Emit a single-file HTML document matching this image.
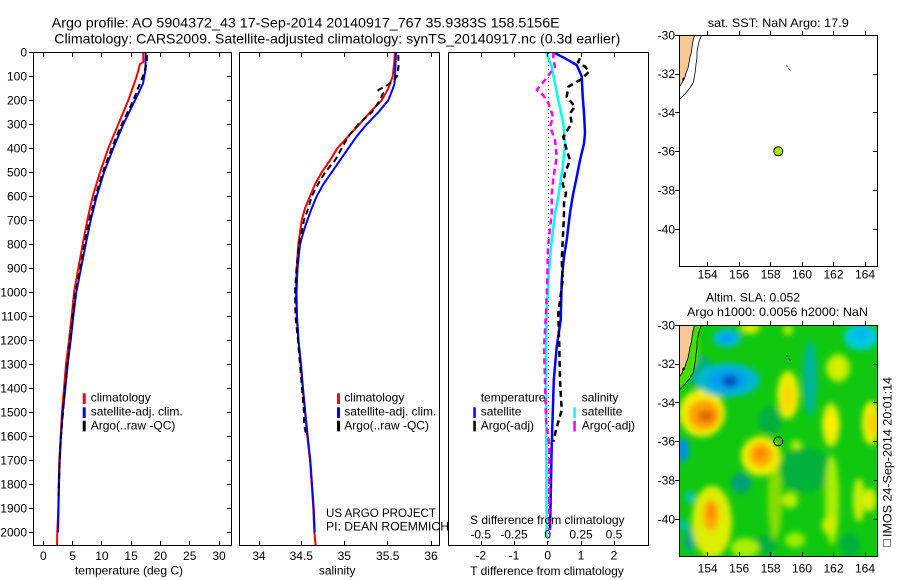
<!DOCTYPE html>
<html><head><meta charset="utf-8"><style>
html,body{margin:0;padding:0;background:#fff;}
svg{display:block;}
text{font-family:"Liberation Sans",Arial,sans-serif;fill:#000;}
</style></head><body>
<svg width="900" height="580" viewBox="0 0 900 580" xmlns="http://www.w3.org/2000/svg">
<defs>
<clipPath id="c1"><rect x="33" y="52" width="198.5" height="493.5"/></clipPath>
<clipPath id="c2"><rect x="239" y="52" width="200.5" height="493.5"/></clipPath>
<clipPath id="c3"><rect x="448" y="52" width="200.5" height="493.5"/></clipPath>
<clipPath id="m1"><rect x="679.5" y="35.5" width="198" height="231"/></clipPath>
<clipPath id="m2"><rect x="679.5" y="325.5" width="198" height="231"/></clipPath>
<filter id="bl" x="-20%" y="-20%" width="140%" height="140%"><feGaussianBlur stdDeviation="3"/></filter>
</defs>

<!-- Titles -->
<text x="51.7" y="27.5" font-size="14" textLength="508" lengthAdjust="spacingAndGlyphs">Argo profile: AO 5904372_43 17-Sep-2014 20140917_767 35.9383S 158.5156E</text>
<text x="54.3" y="43.3" font-size="14" textLength="566" lengthAdjust="spacingAndGlyphs">Climatology: CARS2009. Satellite-adjusted climatology: synTS_20140917.nc (0.3d earlier)</text>

<!-- ============ Panel 1 ============ -->
<g clip-path="url(#c1)" fill="none" stroke-linejoin="round">
<polyline stroke="#ff0000" stroke-width="2" points="143.3,52.3 143.3,62 140,64 136.7,76.3 128.3,100.3 118.3,124.3 108.3,148.3 100,172.3 92.7,196.3 87.3,220.3 82.7,244.3 78.3,268.3 74,292.3 71.7,316.3 69,340.3 66,364.3 64,388.3 62,412.3 60.7,436.3 59.3,460.3 58.7,484.3 58.3,508.3 57.3,532.3 57,545.5"/>
<polyline stroke="#0000ff" stroke-width="2" points="145.7,52.3 145.5,70 144.3,76.3 143,83.5 135,100.3 123.3,124.3 113.3,148.3 104,172.3 96.7,196.3 90.7,220.3 85.7,244.3 81,268.3 76.3,292.3 73.3,316.3 70.7,340.3 67.7,364.3 65.3,388.3 62.7,412.3 61,436.3 59.7,460.3 59,484.3 58.5,508.3 58,532.3"/>
<polyline stroke="#000" stroke-width="2" stroke-dasharray="6,4" points="147,55 146.5,64 143,76.3 138,88.3 133.3,100.3 121.7,124.3 111.7,148.3 102.7,172.3 95.3,196.3 89.3,220.3 84.3,244.3 80,268.3 75.3,292.3 72.5,316.3 70,340.3 67.5,364.3 65,388.3 63,412.3 61,436.3 59.5,465 58.5,496"/>
</g>
<rect x="33.5" y="52.5" width="198" height="493" fill="none" stroke="#000" stroke-width="1"/>
<path stroke="#000" stroke-width="1" fill="none" d="
M29,52.5H33 M29,76.5H33 M29,100.5H33 M29,124.5H33 M29,148.5H33 M29,172.5H33 M29,196.5H33 M29,220.5H33 M29,244.5H33 M29,268.5H33 M29,292.5H33 M29,316.5H33 M29,340.5H33 M29,364.5H33 M29,388.5H33 M29,412.5H33 M29,436.5H33 M29,460.5H33 M29,484.5H33 M29,508.5H33 M29,532.5H33
M227,76.5H231 M227,100.5H231 M227,124.5H231 M227,148.5H231 M227,172.5H231 M227,196.5H231 M227,220.5H231 M227,244.5H231 M227,268.5H231 M227,292.5H231 M227,316.5H231 M227,340.5H231 M227,364.5H231 M227,388.5H231 M227,412.5H231 M227,436.5H231 M227,460.5H231 M227,484.5H231 M227,508.5H231 M227,532.5H231
M43.5,53V57 M72.5,53V57 M101.5,53V57 M131.5,53V57 M160.5,53V57 M189.5,53V57 M219.5,53V57
M43.5,545V541 M72.5,545V541 M101.5,545V541 M131.5,545V541 M160.5,545V541 M189.5,545V541 M219.5,545V541"/>
<g font-size="12" text-anchor="end">
<text x="27" y="56.6">0</text><text x="27" y="80.6">100</text><text x="27" y="104.6">200</text><text x="27" y="128.6">300</text><text x="27" y="152.6">400</text><text x="27" y="176.6">500</text><text x="27" y="200.6">600</text><text x="27" y="224.6">700</text><text x="27" y="248.6">800</text><text x="27" y="272.6">900</text><text x="27" y="296.6">1000</text><text x="27" y="320.6">1100</text><text x="27" y="344.6">1200</text><text x="27" y="368.6">1300</text><text x="27" y="392.6">1400</text><text x="27" y="416.6">1500</text><text x="27" y="440.6">1600</text><text x="27" y="464.6">1700</text><text x="27" y="488.6">1800</text><text x="27" y="512.6">1900</text><text x="27" y="536.6">2000</text>
</g>
<g font-size="12" text-anchor="middle">
<text x="43.3" y="560">0</text><text x="72.6" y="560">5</text><text x="101.9" y="560">10</text><text x="131.1" y="560">15</text><text x="160.4" y="560">20</text><text x="189.7" y="560">25</text><text x="219" y="560">30</text>
<text x="129" y="574.5">temperature (deg C)</text>
</g>
<!-- legend panel 1 -->
<rect x="82.7" y="393.3" width="3" height="10.7" fill="#ff0000"/>
<rect x="82.7" y="407.3" width="3" height="10.7" fill="#0000ff"/>
<rect x="82.7" y="420.7" width="3" height="10.7" fill="#000"/>
<g font-size="12">
<text x="90.7" y="401.7">climatology</text>
<text x="90.7" y="415.7">satellite-adj. clim.</text>
<text x="90.7" y="429.3">Argo(..raw -QC)</text>
</g>

<!-- ============ Panel 2 ============ -->
<g clip-path="url(#c2)" fill="none" stroke-linejoin="round">
<polyline stroke="#ff0000" stroke-width="2" points="395,52.3 394,64.3 392.7,76.3 388.3,88.3 381.7,100.3 370,112.3 359.3,124.3 348.3,136.3 337.3,148.3 330,160.3 321.7,172.3 315,184.3 310,196.3 305,208.3 301.7,220.3 300,232.3 298.3,244.3 296.7,268.3 296,292.3 296.7,316.3 298.3,340.3 300.7,364.3 302.7,388.3 305,412.3 307.3,436.3 310,460.3 311.7,484.3 313.3,508.3 314.3,532.3 315.7,545.5"/>
<polyline stroke="#0000ff" stroke-width="2" points="396,52.3 395.5,64 395,76.3 394.5,83.5 393,88.3 388.3,100.3 378.3,112.3 366.7,124.3 356.7,136.3 348.3,148.3 340,160.3 331.7,172.3 323.3,184.3 316.7,196.3 311.7,208.3 307.3,220.3 303.3,232.3 300,244.3 297.5,268.3 296.5,292.3 297,316.3 298.5,340.3 301,364.3 303,388.3 305.3,412.3 307.7,436.3 310.3,460.3 312,484.3 313.7,508.3 314.7,532.3"/>
<polyline stroke="#000" stroke-width="2" stroke-dasharray="6,4" points="398.3,55 398.5,66.7 397,76.3 393,81 386,86 378.3,90 383,93 380,100.3 371.7,112.3 358.3,124.3 348.3,136.3 341.7,148.3 335,160.3 325,172.3 318,184.3 311.7,196.3 308.3,208.3 304,220.3 299,244.3 296.5,268.3 295,292.3 295.5,316.3 298,340.3 300,364.3 302,388.3 304,412.3 304,424 306.5,436.3"/>
</g>
<rect x="239.5" y="52.5" width="200" height="493" fill="none" stroke="#000" stroke-width="1"/>
<path stroke="#000" stroke-width="1" fill="none" d="M259.5,53V57 M301.5,53V57 M344.5,53V57 M387.5,53V57 M431.5,53V57 M259.5,545V541 M301.5,545V541 M344.5,545V541 M387.5,545V541 M431.5,545V541"/>
<g font-size="12" text-anchor="middle">
<text x="259" y="560">34</text><text x="301.3" y="560">34.5</text><text x="344.3" y="560">35</text><text x="387.7" y="560">35.5</text><text x="431" y="560">36</text>
<text x="337.2" y="574.5">salinity</text>
</g>
<rect x="337" y="393.3" width="3" height="10.7" fill="#ff0000"/>
<rect x="337" y="407.3" width="3" height="10.7" fill="#0000ff"/>
<rect x="337" y="420.7" width="3" height="10.7" fill="#000"/>
<g font-size="12">
<text x="344.3" y="401.7">climatology</text>
<text x="344.3" y="415.7">satellite-adj. clim.</text>
<text x="344.3" y="429.3">Argo(..raw -QC)</text>
<text x="326" y="517" textLength="110" lengthAdjust="spacingAndGlyphs">US ARGO PROJECT</text>
<text x="326" y="530.7" textLength="123" lengthAdjust="spacingAndGlyphs">PI: DEAN ROEMMICH</text>
</g>

<!-- ============ Panel 3 ============ -->
<g clip-path="url(#c3)" fill="none" stroke-linejoin="round">
<line x1="548.5" y1="53" x2="548.5" y2="545" stroke="#000" stroke-width="1" stroke-dasharray="1,3"/>
<polyline stroke="#0000ff" stroke-width="2.5" points="553.3,52.3 565,58.3 576.7,65 581.7,76.3 582.7,96.7 584,113 585,133 584,143.5 580,160.3 576.7,177 572.7,196.3 570,213.1 566.7,240 564,256.8 561.7,280.3 560.7,320 556.7,346.8 553.8,379.9 551.7,446.6 550,530"/>
<polyline stroke="#00ffff" stroke-width="2.5" points="546,52.3 551.7,66.7 558.3,100.3 563.3,123.3 565,143.5 562.7,166.8 558.3,196.3 555,213.3 551,246.7 548.3,280.3 546.7,313.2 546,346.8 546,379.9 546.7,537"/>
<polyline stroke="#ff00ff" stroke-width="2.5" stroke-dasharray="6,4" points="553.3,52.3 553.3,59.5 555,66.7 545,80 536.7,90 543,95 548.3,103 553,116.7 550,126.7 555,140 556.7,156.7 554,173.3 551.7,193.3 551.7,213.3 548,246.7 547.3,280 546,313.3 544,346.7 545,380 546,420 549.3,446 549.3,530"/>
<polyline stroke="#000" stroke-width="2.5" stroke-dasharray="6,4" points="580,58.3 578,62 585,66.7 589.3,71.7 580,80 568.3,86.7 566.7,96.7 575,106.7 570,113.3 571.7,123.3 563.3,136.7 566.7,150 570,160 565,173.3 562.7,184.3 566,193.3 564,203 564,213.3 563.3,230 561.7,260 562.7,280 558.3,313.3 559.3,346.7 560,380 561.7,410 556,430 553.3,441.7"/>
</g>
<rect x="448.5" y="52.5" width="200" height="493" fill="none" stroke="#000" stroke-width="1"/>
<path stroke="#000" stroke-width="1" fill="none" d="M481.5,53V57 M514.5,53V57 M547.5,53V57 M581.5,53V57 M614.5,53V57 M481.5,545V541 M514.5,545V541 M547.5,545V541 M581.5,545V541 M614.5,545V541"/>
<g font-size="12" text-anchor="middle">
<text x="547.3" y="524">S difference from climatology</text>
<text x="480.7" y="538.3">-0.5</text><text x="514" y="538.3">-0.25</text><text x="547.7" y="538.3">0</text><text x="581" y="538.3">0.25</text><text x="614" y="538.3">0.5</text>
<text x="480.7" y="559.5">-2</text><text x="514" y="559.5">-1</text><text x="547.7" y="559.5">0</text><text x="581" y="559.5">1</text><text x="614" y="559.5">2</text>
<text x="547" y="575">T difference from climatology</text>
</g>
<rect x="473.3" y="407.3" width="2.5" height="10.7" fill="#0000ff"/>
<rect x="473.3" y="420.7" width="2.5" height="10.7" fill="#000"/>
<rect x="573.3" y="407.3" width="2.5" height="10.7" fill="#00ffff"/>
<rect x="573.3" y="420.7" width="2.5" height="10.7" fill="#ff00ff"/>
<g font-size="12">
<text x="480.7" y="401.3">temperature</text>
<text x="480.7" y="415.7">satellite</text>
<text x="480.7" y="429.3">Argo(-adj)</text>
<text x="581.7" y="401.3">salinity</text>
<text x="581.7" y="415.7">satellite</text>
<text x="581.7" y="429.3">Argo(-adj)</text>
</g>

<!-- ============ Map 1 ============ -->
<text x="778.3" y="27" font-size="12" text-anchor="middle" textLength="141" lengthAdjust="spacingAndGlyphs">sat. SST: NaN Argo: 17.9</text>
<g clip-path="url(#m1)">
<polygon fill="#f9c995" stroke="#000" stroke-width="0.8" points="679.3,35 694.5,35 693,41 692,47 691.5,52 690,57 689,63 688,68 686,73 685,77 683,80 682,83 679.3,87"/>
<polyline fill="none" stroke="#000" stroke-width="0.8" points="701.7,35 699.5,40 698,46 697,52 697,58 696,64 695.5,70 694.5,76 693.5,82 690,88 685,94 680,99 679,100"/>
<path d="M682,79H685 M683.5,77.5V81" stroke="#000" stroke-width="1"/>
<path d="M786.5,65.5l1,1 M788.5,68.5l2,2" stroke="#000" stroke-width="1"/>
<circle cx="778.3" cy="151.3" r="4.5" fill="#a8e800" stroke="#000" stroke-width="1"/>
</g>
<rect x="679.5" y="35.5" width="198" height="231" fill="none" stroke="#000" stroke-width="1"/>
<path stroke="#000" stroke-width="1" fill="none" d="M675,35.5H679 M675,74.5H679 M675,112.5H679 M675,151.5H679 M675,190.5H679 M675,229.5H679
M873,74.5H877 M873,112.5H877 M873,151.5H877 M873,190.5H877 M873,229.5H877
M707.5,31V35 M739.5,31V35 M770.5,31V35 M802.5,31V35 M833.5,31V35 M865.5,31V35
M707.5,266V262 M739.5,266V262 M770.5,266V262 M802.5,266V262 M833.5,266V262 M865.5,266V262"/>
<g font-size="12" text-anchor="end">
<text x="675" y="39.3">-30</text><text x="675" y="78.1">-32</text><text x="675" y="116.9">-34</text><text x="675" y="155.7">-36</text><text x="675" y="194.5">-38</text><text x="675" y="233.3">-40</text>
</g>
<g font-size="12" text-anchor="middle">
<text x="707.7" y="278.6">154</text><text x="739.2" y="278.6">156</text><text x="770.6" y="278.6">158</text><text x="802" y="278.6">160</text><text x="833.5" y="278.6">162</text><text x="865" y="278.6">164</text>
</g>

<!-- ============ Map 2 ============ -->
<text x="753" y="301.5" font-size="12" text-anchor="middle" textLength="94" lengthAdjust="spacingAndGlyphs">Altim. SLA: 0.052</text>
<text x="777.5" y="316" font-size="12" text-anchor="middle" textLength="181" lengthAdjust="spacingAndGlyphs">Argo h1000: 0.0056 h2000: NaN</text>
<g clip-path="url(#m2)">
<rect x="679" y="325" width="199" height="232" fill="#10c810"/>
<g filter="url(#bl)">
<ellipse cx="806" cy="470" rx="28" ry="22" fill="#00b13a"/>
<ellipse cx="741" cy="483" rx="10" ry="10" fill="#00a07a"/>
<ellipse cx="810" cy="378" rx="7" ry="38" fill="#00b49a"/>
<ellipse cx="700" cy="372" rx="14" ry="16" fill="#00b07a"/>
<ellipse cx="690" cy="540" rx="6" ry="12" fill="#00aa88"/>
<ellipse cx="765" cy="545" rx="12" ry="10" fill="#00b13a"/>
<ellipse cx="850" cy="545" rx="10" ry="12" fill="#00b040"/>
<ellipse cx="770" cy="420" rx="12" ry="14" fill="#00b040"/>
<ellipse cx="690" cy="348" rx="8" ry="22" fill="#66dd00"/>
<ellipse cx="750" cy="328" rx="10" ry="6" fill="#ccee00"/>
<ellipse cx="788" cy="330" rx="5" ry="5" fill="#bbee00"/>
<ellipse cx="788" cy="395" rx="11" ry="24" fill="#e8ee00"/>
<ellipse cx="788" cy="398" rx="6" ry="12" fill="#ffd800"/>
<ellipse cx="838" cy="368" rx="12" ry="14" fill="#bbee00"/>
<ellipse cx="838" cy="368" rx="6" ry="7" fill="#e0ee00"/>
<ellipse cx="831" cy="425" rx="9" ry="22" fill="#ddee00"/>
<ellipse cx="831" cy="425" rx="5" ry="12" fill="#ffee00"/>
<ellipse cx="871" cy="423" rx="9" ry="22" fill="#eeee00"/>
<ellipse cx="873" cy="423" rx="5" ry="12" fill="#ffcc00"/>
<ellipse cx="796" cy="445" rx="6" ry="5" fill="#aaee00"/>
<ellipse cx="775" cy="500" rx="7" ry="40" fill="#88dd00"/>
<ellipse cx="790" cy="500" rx="8" ry="8" fill="#bbee00"/>
<ellipse cx="832" cy="500" rx="7" ry="45" fill="#aaee00"/>
<ellipse cx="859" cy="500" rx="6" ry="22" fill="#ccee00"/>
<ellipse cx="870" cy="500" rx="6" ry="12" fill="#ddee00"/>
<ellipse cx="830" cy="525" rx="8" ry="10" fill="#ccee00"/>
<ellipse cx="745" cy="548" rx="14" ry="10" fill="#aaee00"/>
<ellipse cx="795" cy="540" rx="10" ry="8" fill="#99ee00"/>
<ellipse cx="712" cy="522" rx="20" ry="36" fill="#ddee00"/>
<ellipse cx="711" cy="515" rx="8" ry="16" fill="#ffaa00"/>
<ellipse cx="711" cy="512" rx="4" ry="8" fill="#ff8800"/>
<ellipse cx="761" cy="456" rx="20" ry="20" fill="#eeee00"/>
<ellipse cx="761" cy="455" rx="12" ry="12" fill="#ffaa00"/>
<ellipse cx="760" cy="453" rx="5" ry="5" fill="#ff7700"/>
<ellipse cx="702" cy="413" rx="23" ry="24" fill="#eeee00"/>
<ellipse cx="704" cy="415" rx="16" ry="15" fill="#ffa000"/>
<ellipse cx="706" cy="416" rx="8" ry="6" fill="#dd6600"/>
<ellipse cx="727" cy="338" rx="14" ry="9" fill="#00bbdd"/>
<ellipse cx="727" cy="338" rx="7" ry="5" fill="#00a0f0"/>
<ellipse cx="728" cy="380" rx="32" ry="17" fill="#00b8d0"/>
<ellipse cx="728" cy="380" rx="20" ry="11" fill="#00a0ee"/>
<ellipse cx="730" cy="381" rx="8" ry="6" fill="#0050c0"/>
<ellipse cx="683" cy="450" rx="6" ry="12" fill="#0090e8"/>
<ellipse cx="690" cy="497" rx="5" ry="6" fill="#00c0c0"/>
<ellipse cx="861" cy="337" rx="17" ry="13" fill="#00ccdd"/>
<ellipse cx="861" cy="334" rx="8" ry="7" fill="#00b8ee"/>
<ellipse cx="683" cy="525" rx="4" ry="6" fill="#00c0d0"/>
</g>
<polygon fill="#44dd00" points="694.5,325 701.7,325 699.5,330 698,336 697,342 697,348 696,354 695.5,360 694.5,366 693.5,372 690,378 685,384 680,389 679.3,377 682,373 683,370 685,367 686,363 688,358 689,353 690,347 691.5,342 692,337 693,331"/>
<polygon fill="#f9c995" stroke="#000" stroke-width="0.8" points="679.3,325 694.5,325 693,331 692,337 691.5,342 690,347 689,353 688,358 686,363 685,367 683,370 682,373 679.3,377"/>
<polyline fill="none" stroke="#000" stroke-width="0.8" points="701.7,325 699.5,330 698,336 697,342 697,348 696,354 695.5,360 694.5,366 693.5,372 690,378 685,384 680,389 679,390"/>
<path d="M682,369H685 M683.5,367.5V371" stroke="#000" stroke-width="1"/>
<path d="M786.5,355.5l1,1 M788.5,358.5l2,2" stroke="#000" stroke-width="1"/>
<circle cx="778.3" cy="441.3" r="4.5" fill="none" stroke="#000" stroke-width="1"/>
</g>
<rect x="679.5" y="325.5" width="198" height="231" fill="none" stroke="#000" stroke-width="1"/>
<path stroke="#000" stroke-width="1" fill="none" d="M675,325.5H679 M675,364.5H679 M675,402.5H679 M675,441.5H679 M675,480.5H679 M675,519.5H679
M873,364.5H877 M873,402.5H877 M873,441.5H877 M873,480.5H877 M873,519.5H877
M707.5,321V325 M739.5,321V325 M770.5,321V325 M802.5,321V325 M833.5,321V325 M865.5,321V325
M707.5,556V552 M739.5,556V552 M770.5,556V552 M802.5,556V552 M833.5,556V552 M865.5,556V552"/>
<g font-size="12" text-anchor="end">
<text x="675" y="329.3">-30</text><text x="675" y="368.1">-32</text><text x="675" y="406.9">-34</text><text x="675" y="445.7">-36</text><text x="675" y="484.5">-38</text><text x="675" y="523.3">-40</text>
</g>
<g font-size="12" text-anchor="middle">
<text x="707.7" y="572.6">154</text><text x="739.2" y="572.6">156</text><text x="770.6" y="572.6">158</text><text x="802" y="572.6">160</text><text x="833.5" y="572.6">162</text><text x="865" y="572.6">164</text>
</g>

<!-- rotated stamp -->
<rect x="883.5" y="539.5" width="7" height="7" fill="none" stroke="#000" stroke-width="1" stroke-dasharray="1,1"/>
<text font-size="12" transform="translate(891.5,537) rotate(-90)" textLength="160" lengthAdjust="spacingAndGlyphs">IMOS 24-Sep-2014 20:01:14</text>
</svg>
</body></html>
